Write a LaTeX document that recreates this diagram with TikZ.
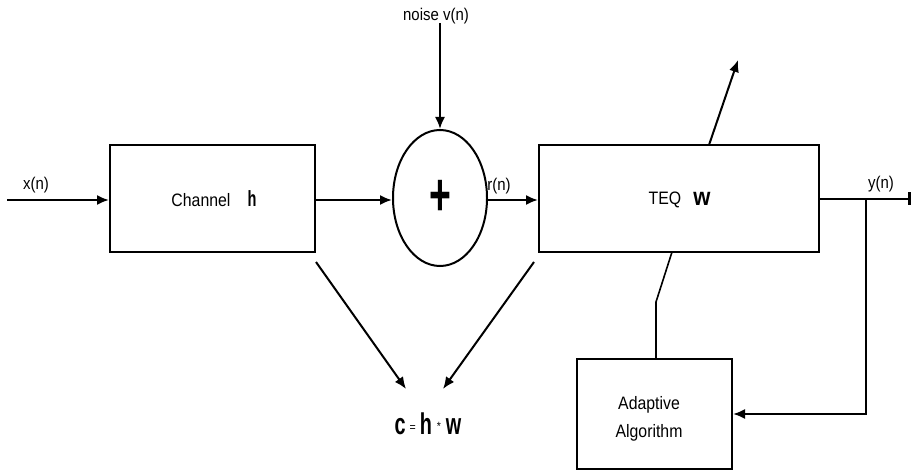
\documentclass[tikz,border=0pt]{standalone}
\usepackage{fontspec}
\setmainfont{Liberation Sans}
\newfontfamily\narrow[FakeStretch=0.88]{Liberation Sans}
\usetikzlibrary{shapes.geometric,arrows.meta}
\begin{document}
\begin{tikzpicture}[x=1pt,y=-1pt,
  every node/.style={font=\narrow},
  box/.style={draw,line width=2pt,rectangle,inner sep=0pt},
  ln/.style={line width=2pt},
  arr/.style={line width=2pt,-{Latex[length=12pt,width=10pt]}},
  lbl/.style={font=\narrow\fontsize{17}{19}\selectfont,inner sep=0pt},
  txt/.style={font=\narrow\fontsize{18}{28}\selectfont,inner sep=0pt}]
\useasboundingbox (0,0) rectangle (913,473);
% blocks
\node[box,minimum width=205pt,minimum height=107pt] (ch) at (212.5,198.5) {};
\node[box,minimum width=280pt,minimum height=107pt] (teq) at (679,198.5) {};
\node[box,minimum width=155pt,minimum height=110pt] (ad) at (654.5,414) {};
\node[draw,ellipse,line width=2pt,minimum width=94pt,minimum height=136pt,inner sep=0pt] (sum) at (440,198) {};
% texts
\node[txt] (cht) at (201,200) {Channel};
\node[inner sep=0pt] (chh) at (252,199) {\fontsize{22}{22}\selectfont\bfseries\scalebox{0.75}[1]{h}};
\node[txt] (teqt) at (665,200) {TEQ};
\node[inner sep=0pt] (teqw) at (702,199) {\fontsize{25}{26}\selectfont\bfseries w};
\node[inner sep=0pt] (plus) at (440.5,197.5) {\fontsize{50}{50}\selectfont\bfseries\scalebox{0.85}[1.2]{+}};
\node[txt,align=center] (adt) at (649,419) {Adaptive\\Algorithm};
\node[lbl] (nzl) at (436,16) {noise v(n)};
\node[lbl] (xl) at (36,185) {x(n)};
\node[lbl] (rl) at (499,186) {r(n)};
\node[lbl] (yl) at (881,184) {y(n)};
\node[inner sep=0pt] (res) at (428,424) {\scalebox{0.75}[1]{\fontsize{30}{32}\selectfont\bfseries c}\hspace{4pt}\raisebox{3pt}{\fontsize{12}{12}\selectfont =}\hspace{4pt}\scalebox{0.75}[1]{\fontsize{30}{32}\selectfont\bfseries h}\hspace{5pt}\raisebox{4pt}{\fontsize{12}{12}\selectfont *}\hspace{5pt}\scalebox{0.75}[1]{\fontsize{30}{32}\selectfont\bfseries w}};
% coordinates
\coordinate (xin) at (7,200);
\coordinate (nz) at (440,23);
\coordinate (yout) at (911,199);
\coordinate (br) at (866,199);
\coordinate (tt) at (709,145);
\coordinate (tip) at (738,60);
\coordinate (tb) at (672,252);
\coordinate (kn) at (656,302);
\coordinate (c1) at (316,262);
\coordinate (c1e) at (406,389);
\coordinate (c2) at (534,262);
\coordinate (c2e) at (443,389);
% connectors
\draw[arr] (xin) -- (ch.west |- xin);
\draw[arr] (ch.east |- xin) -- (sum.west |- xin);
\draw[arr] (sum.east |- xin) -- (teq.west |- xin);
\draw[arr] (nz) -- (sum.north);
\draw[ln,-{Bar[width=13pt,line width=3.5pt]}] (teq.east |- yout) -- (yout);
\draw[arr] (br) |- (ad.east);
\draw[line width=1.6pt] (ad.north -| kn) -- (kn) -- (tb);
\draw[arr] (tt) -- (tip);
\draw[arr] (c1) -- (c1e);
\draw[arr] (c2) -- (c2e);
\end{tikzpicture}
\end{document}
